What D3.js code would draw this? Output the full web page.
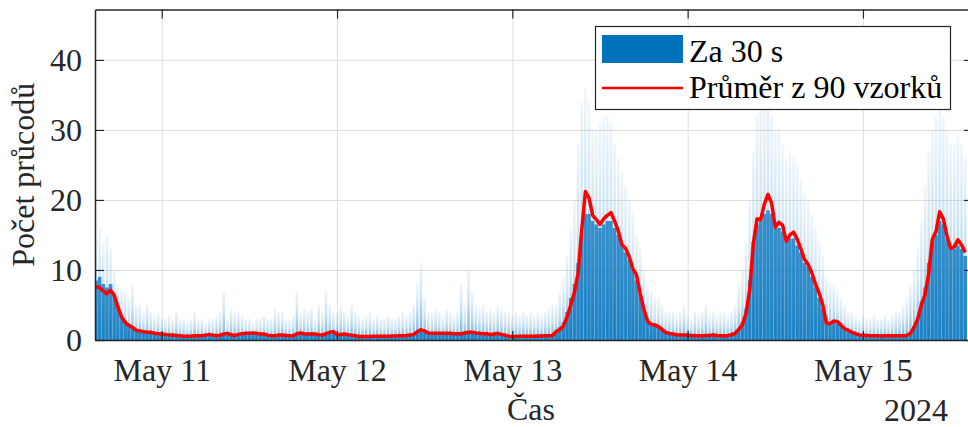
<!DOCTYPE html>
<html>
<head>
<meta charset="utf-8">
<script src="https://cdn.jsdelivr.net/npm/d3@7"></script>
<style>
    body { margin: 0; background: #fff; }
    svg { display: block; font-family: "Liberation Serif", "Times New Roman", serif; }
</style>
</head>
<body>
<div class="content"></div>
<script>
// data: 30min bins starting May 10 15:00 (local)
const start = new Date(2024, 4, 10, 15, 0);
const stepMin = 30;

// red line - Průměr z 90 vzorků
const prumer = [
    7.6, 7.5, 7.0, 6.6, 7.1, 6.4, 4.7, 3.3, 2.5, 2.1,
    1.8, 1.4, 1.3, 1.2, 1.1, 1.1, 0.95, 0.9, 0.85, 0.8,
    0.7, 0.7, 0.65, 0.6, 0.55, 0.55, 0.55, 0.6, 0.6, 0.6,
    0.7, 0.8, 0.7, 0.6, 0.7, 0.85, 0.95, 0.75, 0.65, 0.8,
    0.9, 0.95, 0.95, 1.0, 0.95, 0.85, 0.85, 0.7, 0.6, 0.6,
    0.7, 0.7, 0.65, 0.6, 0.6, 0.9, 1.0, 0.9, 0.85, 0.85,
    0.85, 0.75, 0.7, 0.9, 1.1, 1.2, 0.75, 0.8, 0.85, 0.75,
    0.7, 0.6, 0.5, 0.5, 0.5, 0.5, 0.52, 0.52, 0.52, 0.55,
    0.55, 0.57, 0.57, 0.6, 0.62, 0.65, 0.7, 0.8, 1.2, 1.45,
    1.3, 1.0, 0.95, 0.95, 0.95, 0.95, 0.95, 0.95, 0.9, 0.9,
    0.9, 1.0, 1.1, 1.1, 1.0, 0.95, 0.9, 0.9, 0.75, 0.85,
    0.95, 0.8, 0.7, 0.55, 0.48, 0.5, 0.52, 0.52, 0.55, 0.55,
    0.55, 0.57, 0.57, 0.6, 0.6, 0.65, 1.2, 1.5, 2.0, 3.3,
    5.0, 6.8, 9.5, 15.7, 21.2, 20.3, 17.8, 17.2, 16.5, 17.3,
    17.8, 18.2, 17.0, 15.6, 13.6, 13.1, 11.9, 10.2, 9.3, 6.7,
    4.4, 2.7, 2.25, 2.15, 1.9, 1.5, 1.1, 0.95, 0.85, 0.75,
    0.7, 0.7, 0.7, 0.65, 0.6, 0.6, 0.6, 0.65, 0.65, 0.7,
    0.65, 0.62, 0.62, 0.62, 0.75, 0.95, 1.5, 2.2, 3.8, 7.2,
    13.8, 17.3, 17.2, 19.4, 20.8, 19.5, 16.1, 16.8, 16.4, 14.1,
    15.0, 15.4, 14.4, 13.0, 11.5, 10.8, 9.6, 8.0, 6.7, 5.0,
    2.4, 2.35, 2.7, 2.65, 2.1, 1.6, 1.4, 1.1, 0.9, 0.72,
    0.68, 0.65, 0.62, 0.6, 0.6, 0.58, 0.6, 0.62, 0.6, 0.62,
    0.6, 0.62, 0.65, 0.95, 1.8, 3.0, 5.0, 6.5, 9.5, 14.4,
    15.5, 18.3, 17.3, 14.9, 13.1, 13.3, 14.3, 13.6, 12.5
];

// Za 30 s - highest 30s counts in each bin (faint spikes)
const maxima = [
    15, 16, 14, 15, 13, 10, 8, 7, 7, 6,
    8, 5, 5, 4, 5, 4, 3.5, 4, 3, 3,
    3.5, 3, 4, 3, 3, 2.5, 3, 4, 3, 3,
    2.5, 3, 3, 3.5, 4, 7, 3, 4.5, 4, 4,
    3.5, 3, 3, 2.5, 3, 3, 3.5, 3, 3, 4.5,
    4, 4, 3, 3, 3.5, 7, 4, 4.5, 4, 4.5,
    3, 5, 4, 7, 5, 4, 4, 5, 4, 3.5,
    5, 4, 3.5, 3, 3.5, 4, 3, 3.5, 3, 3,
    3.5, 3, 3, 3.5, 4, 3.5, 4, 5, 8, 11,
    6, 4, 4, 4.5, 4, 3.5, 4.5, 4, 3.5, 4,
    8, 5, 10, 7, 5, 4.5, 5, 4, 4.5, 4,
    5, 4.5, 4, 4, 3.5, 4, 3.5, 4, 3.5, 4,
    3.5, 4, 3.5, 4, 4.5, 5, 5, 7, 9, 12,
    16, 20, 28, 34, 36, 34, 30, 30, 31, 32,
    32, 31, 28, 26, 24, 22, 20, 18, 15, 13,
    10, 8, 7, 6, 6, 5, 4, 4, 4, 3.5,
    4, 5, 3.5, 3, 4, 3.5, 4, 5, 3.5, 4,
    3.5, 4, 4, 3.5, 4, 5, 8, 10, 14, 20,
    27, 32, 34, 35, 36, 32, 30, 30, 28, 26,
    27, 26, 25, 23, 21, 20, 18, 16, 14, 12,
    9, 8, 8, 7, 6, 5, 4, 4, 3.5, 3,
    3.5, 3, 3, 3.5, 3, 3, 3.5, 3, 3.5, 4,
    4, 5, 6, 8, 10, 13, 17, 22, 27, 30,
    32, 33, 32, 30, 28, 28, 29, 28, 26
];

// Za 30 s - dense level of the bars in each bin
const telo = [
    8.5, 9, 8, 7.5, 8, 6.5, 5, 3.5, 2.8, 2.3,
    2, 1.6, 1.4, 1.3, 1.2, 1.1, 1, 1, 0.9, 0.9,
    0.8, 0.8, 0.7, 0.7, 0.6, 0.6, 0.6, 0.7, 0.7, 0.7,
    0.8, 0.9, 0.8, 0.7, 0.8, 0.9, 1, 0.8, 0.7, 0.9,
    1, 1, 1, 1.1, 1, 0.9, 0.9, 0.8, 0.7, 0.7,
    0.8, 0.8, 0.7, 0.7, 0.7, 1, 1.1, 1, 0.9, 0.9,
    0.9, 0.8, 0.8, 1, 1.2, 1.3, 0.8, 0.9, 0.9, 0.8,
    0.8, 0.7, 0.6, 0.6, 0.6, 0.6, 0.6, 0.6, 0.6, 0.6,
    0.6, 0.6, 0.6, 0.7, 0.7, 0.7, 0.8, 0.9, 1.3, 1.6,
    1.4, 1.1, 1, 1, 1, 1, 1, 1, 1, 1,
    1, 1.1, 1.2, 1.2, 1.1, 1, 1, 1, 0.8, 0.9,
    1, 0.9, 0.8, 0.6, 0.5, 0.6, 0.6, 0.6, 0.6, 0.6,
    0.6, 0.6, 0.6, 0.7, 0.7, 0.8, 1.3, 1.8, 2.5, 4,
    6, 8, 11, 15, 18, 18, 17, 16.5, 16, 16.5,
    17, 17, 16, 15, 13.5, 12.5, 11.5, 10, 8.5, 6.5,
    4.5, 3, 2.4, 2.2, 1.9, 1.5, 1.2, 1, 0.9, 0.8,
    0.8, 0.8, 0.7, 0.7, 0.7, 0.6, 0.7, 0.7, 0.7, 0.8,
    0.7, 0.7, 0.7, 0.8, 0.9, 1.1, 1.7, 2.6, 4.5, 8.5,
    14, 16.5, 17, 18, 18.5, 18, 16, 16, 15.5, 14,
    14.5, 14.5, 13.5, 12.5, 11, 10.5, 9, 7.5, 6, 4.5,
    2.8, 2.5, 2.8, 2.7, 2.2, 1.7, 1.4, 1.1, 0.9, 0.8,
    0.7, 0.7, 0.7, 0.6, 0.6, 0.6, 0.6, 0.7, 0.6, 0.7,
    0.7, 0.7, 0.8, 1.1, 2, 3.3, 5.5, 7.5, 11, 14,
    15, 17, 16.5, 14.5, 13, 13, 13.5, 13, 12
];

const yTicks = [0, 10, 20, 30, 40];
const xTicks = [
    new Date(2024, 4, 11), new Date(2024, 4, 12), new Date(2024, 4, 13),
    new Date(2024, 4, 14), new Date(2024, 4, 15)
];
const legendLabels = ['Za 30 s', 'Průměr z 90 vzorků'];

(function () {
    let W = 968, H = 427;
    let plot = {left: 95, right: 973, top: 9.5, bottom: 340};
    let fontSize = 32;
    let fontFamily = '"Liberation Serif", "Times New Roman", Times, serif';
    let axisColor = '#262626';
    let blue = '#0072BD';

    let n = Math.min(prumer.length, maxima.length, telo.length);
    let dataset = d3.range(n).map(function (k) {
        return {
            t: d3.timeMinute.offset(start, k * stepMin),
            avg: prumer[k],
            max: maxima[k],
            body: telo[k]
        };
    });

    let xScale = d3.scaleTime()
        .domain([new Date(2024, 4, 10, 14, 52), new Date(2024, 4, 15, 15, 4)])
        .range([plot.left, plot.right]);

    let yScale = d3.scaleLinear()
        .domain([0, 47.2])
        .range([plot.bottom, plot.top]);

    let svg = d3.select('.content').append('svg')
        .attr('width', W)
        .attr('height', H)
        .style('font-family', fontFamily);

    let defs = svg.append('defs');
    defs.append('clipPath').attr('id', 'plotClip')
        .append('rect')
        .attr('x', plot.left).attr('y', plot.top)
        .attr('width', plot.right - plot.left)
        .attr('height', plot.bottom - plot.top);

    // spikes get sparser towards the top
    let fade = defs.append('linearGradient')
        .attr('id', 'fade')
        .attr('x1', 0).attr('x2', 0).attr('y1', 0).attr('y2', 1);
    fade.append('stop').attr('offset', 0).attr('stop-color', blue).attr('stop-opacity', 0.06);
    fade.append('stop').attr('offset', 0.45).attr('stop-color', blue).attr('stop-opacity', 0.2);
    fade.append('stop').attr('offset', 0.75).attr('stop-color', blue).attr('stop-opacity', 0.42);
    fade.append('stop').attr('offset', 1).attr('stop-color', blue).attr('stop-opacity', 0.6);

    // grid lines
    let grid = svg.append('g').attr('class', 'grid');
    grid.append('g')
        .attr('transform', 'translate(0,' + plot.bottom + ')')
        .call(d3.axisBottom(xScale).tickValues(xTicks).tickSize(-(plot.bottom - plot.top)).tickFormat(''));
    grid.append('g')
        .attr('transform', 'translate(' + plot.left + ',0)')
        .call(d3.axisLeft(yScale).tickValues(yTicks).tickSize(-(plot.right - plot.left)).tickFormat(''));
    grid.selectAll('.domain').remove();
    grid.selectAll('line').attr('stroke', '#dedede').attr('stroke-width', 1);

    let chart = svg.append('g').attr('clip-path', 'url(#plotClip)');

    let half = stepMin / 2;
    let binX = function (d) { return xScale(d3.timeMinute.offset(d.t, -half)); };
    let binW = function (d) {
        return xScale(d3.timeMinute.offset(d.t, half)) - xScale(d3.timeMinute.offset(d.t, -half));
    };

    // Za 30 s - sparse tops (narrower than the bin)
    chart.append('g').selectAll('rect')
        .data(dataset)
        .enter()
        .append('rect')
        .attr('x', function (d) { return binX(d) + binW(d) * 0.15; })
        .attr('width', function (d) { return binW(d) * 0.7; })
        .attr('y', function (d) { return yScale(d.max); })
        .attr('height', function (d) { return yScale(0) - yScale(d.max); })
        .attr('fill', 'url(#fade)');

    // Za 30 s - dense body
    chart.append('g').selectAll('rect')
        .data(dataset)
        .enter()
        .append('rect')
        .attr('x', binX)
        .attr('width', binW)
        .attr('y', function (d) { return yScale(d.body); })
        .attr('height', function (d) { return yScale(0) - yScale(d.body); })
        .attr('fill', blue)
        .attr('fill-opacity', 0.74);

    // moving average
    let line = d3.line()
        .x(function (d) { return xScale(d.t); })
        .y(function (d) { return yScale(d.avg); });

    chart.append('path')
        .datum(dataset)
        .attr('fill', 'none')
        .attr('stroke', '#ff0000')
        .attr('stroke-width', 3.5)
        .attr('stroke-linejoin', 'round')
        .attr('d', line);

    // axes (box with inward ticks)
    let fmt = d3.timeFormat('%b %-d');
    let gX = svg.append('g')
        .attr('transform', 'translate(0,' + plot.bottom + ')')
        .call(d3.axisBottom(xScale).tickValues(xTicks).tickFormat(fmt)
            .tickSizeInner(-9).tickSizeOuter(0).tickPadding(18));
    let gXt = svg.append('g')
        .attr('transform', 'translate(0,' + plot.top + ')')
        .call(d3.axisTop(xScale).tickValues(xTicks).tickFormat('')
            .tickSizeInner(-9).tickSizeOuter(0));
    let gY = svg.append('g')
        .attr('transform', 'translate(' + plot.left + ',0)')
        .call(d3.axisLeft(yScale).tickValues(yTicks)
            .tickSizeInner(-9).tickSizeOuter(0).tickPadding(13));
    let gYr = svg.append('g')
        .attr('transform', 'translate(' + plot.right + ',0)')
        .call(d3.axisRight(yScale).tickValues(yTicks).tickFormat('')
            .tickSizeInner(-9).tickSizeOuter(0));

    [gX, gXt, gY, gYr].forEach(function (g) {
        g.attr('font-family', fontFamily).attr('font-size', fontSize);
        g.selectAll('.domain').attr('stroke', axisColor).attr('stroke-width', 1.5);
        g.selectAll('line').attr('stroke', axisColor).attr('stroke-width', 1.2);
        g.selectAll('text').attr('fill', axisColor);
    });

    // labels
    let label = function (x, y, anchor, txt) {
        return svg.append('text')
            .attr('x', x).attr('y', y)
            .attr('text-anchor', anchor)
            .attr('fill', axisColor)
            .attr('font-family', fontFamily)
            .attr('font-size', fontSize)
            .text(txt);
    };
    label(531, 420, 'middle', 'Čas');
    label(948, 421, 'end', '2024');
    label(0, 0, 'middle', 'Počet průcodů')
        .attr('transform', 'translate(34,' + ((plot.top + plot.bottom) / 2) + ') rotate(-90)');

    // legend
    let lg = svg.append('g').attr('class', 'legend');
    lg.append('rect')
        .attr('x', 595.5).attr('y', 26.5)
        .attr('width', 355).attr('height', 83)
        .attr('fill', '#fff')
        .attr('stroke', axisColor)
        .attr('stroke-width', 1.2);
    lg.append('rect')
        .attr('x', 602).attr('y', 35)
        .attr('width', 81).attr('height', 28)
        .attr('fill', blue);
    lg.append('line')
        .attr('x1', 602).attr('x2', 683)
        .attr('y1', 88).attr('y2', 88)
        .attr('stroke', '#ff0000')
        .attr('stroke-width', 2.5);
    lg.selectAll('text.lab')
        .data(legendLabels)
        .enter()
        .append('text')
        .attr('class', 'lab')
        .attr('x', 689)
        .attr('y', function (d, i) { return i === 0 ? 61.5 : 98; })
        .attr('fill', '#000')
        .attr('font-family', fontFamily)
        .attr('font-size', fontSize)
        .text(function (d) { return d; });
})();
</script>
</body>
</html>
